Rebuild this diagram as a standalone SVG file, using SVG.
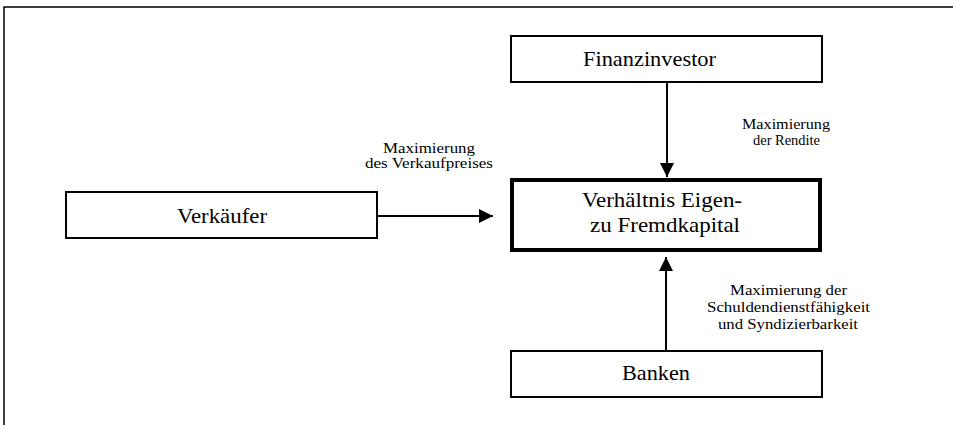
<svg xmlns="http://www.w3.org/2000/svg" width="953" height="425" viewBox="0 0 953 425">
<defs>
<style>
.box{fill:#fff;stroke:#000;stroke-width:2}
.main{fill:#fff;stroke:#000;stroke-width:4}
.frame{fill:none;stroke:#000;stroke-width:1.5}
.t{font-family:"Liberation Serif","Times New Roman",serif;font-size:21px;fill:#000}
.l{font-family:"Liberation Serif","Times New Roman",serif;font-size:15px;fill:#000}
.c{stroke:#000;stroke-width:2;fill:none}
</style>
<marker id="ah" markerWidth="14" markerHeight="14" refX="14" refY="7" orient="auto" markerUnits="userSpaceOnUse">
<path d="M0,0 L14,7 L0,14 Z" fill="#000"/>
</marker>
</defs>
<rect width="953" height="425" fill="#fff"/>
<path class="frame" d="M4,425 V7 H953"/>
<g id="connectors">
<line class="c" x1="667" y1="82" x2="667" y2="177" marker-end="url(#ah)"/>
<line class="c" x1="377" y1="216" x2="493" y2="216" marker-end="url(#ah)"/>
<line class="c" x1="666" y1="351" x2="666" y2="257" marker-end="url(#ah)"/>
<text class="l" x="383" y="153" textLength="92" lengthAdjust="spacingAndGlyphs">Maximierung</text>
<text class="l" x="365" y="168" textLength="128" lengthAdjust="spacingAndGlyphs">des Verkaufpreises</text>
<text class="l" x="742" y="129" textLength="88" lengthAdjust="spacingAndGlyphs">Maximierung</text>
<text class="l" x="753" y="145" textLength="67" lengthAdjust="spacingAndGlyphs">der Rendite</text>
<text class="l" x="730" y="295" textLength="117" lengthAdjust="spacingAndGlyphs">Maximierung der</text>
<text class="l" x="707" y="312" textLength="163" lengthAdjust="spacingAndGlyphs">Schuldendienstfähigkeit</text>
<text class="l" x="718" y="329" textLength="140" lengthAdjust="spacingAndGlyphs">und Syndizierbarkeit</text>
</g>
<g id="finanzinvestor">
<rect class="box" x="511" y="36" width="311" height="46"/>
<text class="t" x="583" y="66" textLength="133" lengthAdjust="spacingAndGlyphs">Finanzinvestor</text>
</g>
<g id="verkaeufer">
<rect class="box" x="66" y="192" width="311" height="46"/>
<text class="t" x="177" y="223" textLength="90" lengthAdjust="spacingAndGlyphs">Verkäufer</text>
</g>
<g id="kapital">
<rect class="main" x="512" y="180" width="308" height="70"/>
<text class="t" x="582" y="207" textLength="160" lengthAdjust="spacingAndGlyphs">Verhältnis Eigen-</text>
<text class="t" x="590" y="232" textLength="150" lengthAdjust="spacingAndGlyphs">zu Fremdkapital</text>
</g>
<g id="banken">
<rect class="box" x="511" y="351" width="311" height="46"/>
<text class="t" x="622" y="380" textLength="68" lengthAdjust="spacingAndGlyphs">Banken</text>
</g>
</svg>
